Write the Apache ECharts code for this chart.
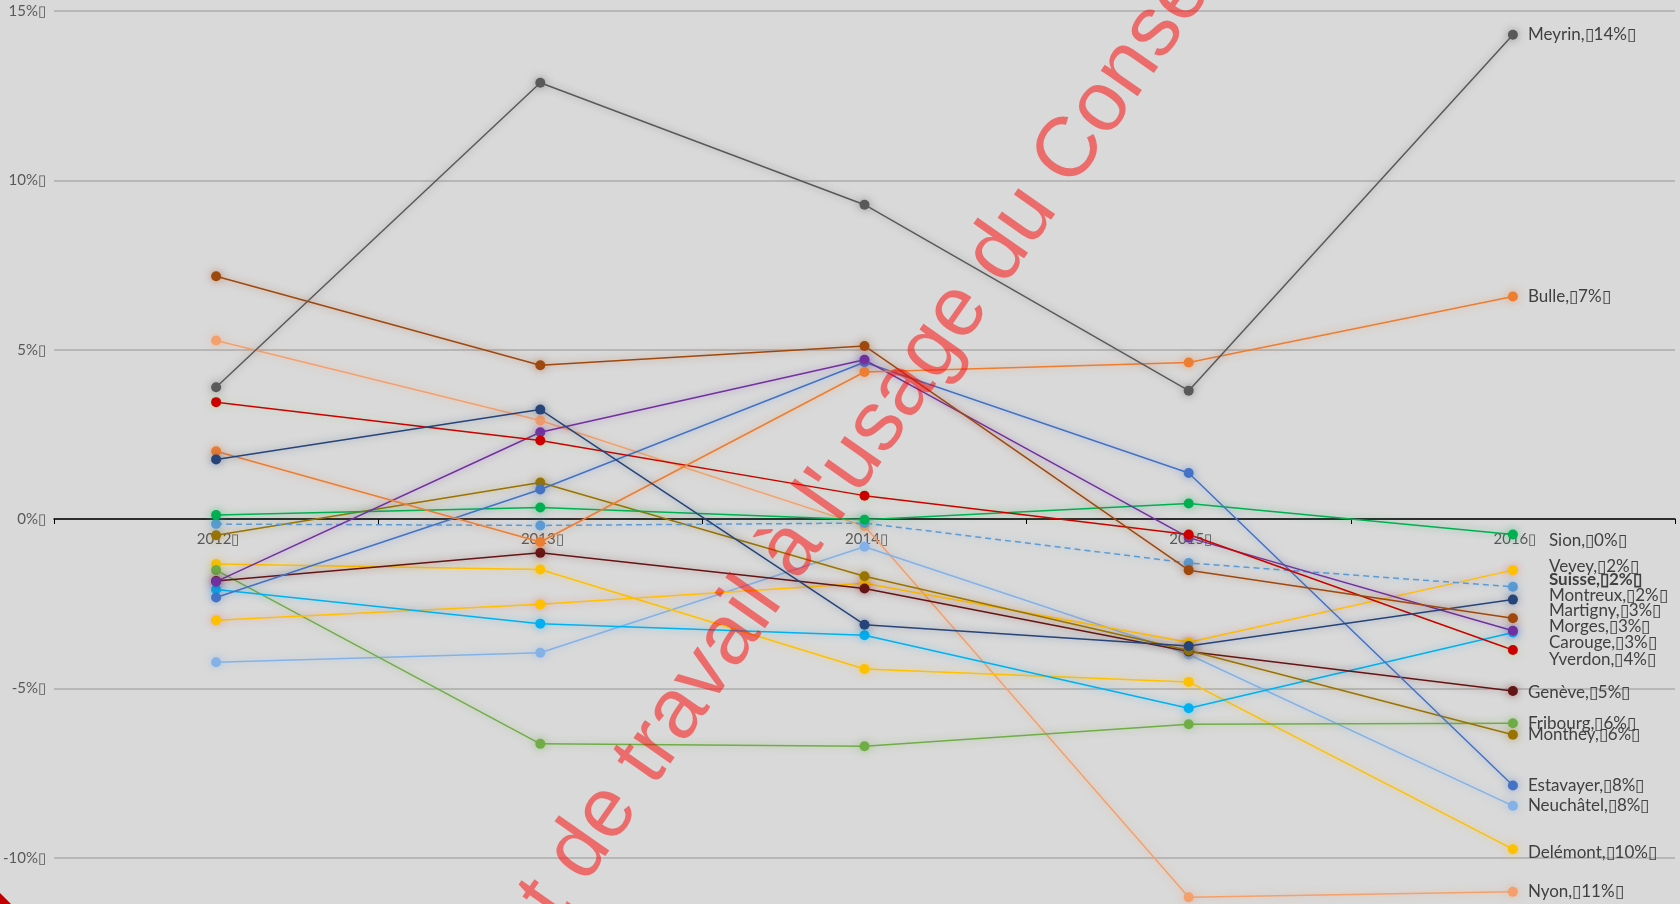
<!DOCTYPE html>
<html>
<head>
<meta charset="utf-8">
<script src="https://cdn.jsdelivr.net/npm/echarts@6/dist/echarts.min.js"></script>
<style>
html,body{margin:0;padding:0;overflow:hidden;background:#d9d9d9;}
#chart{width:1680px;height:1100px;}
</style>
</head>
<body>
<div id="chart"></div>
<script>
// ---- data ----
const years = ['2012', '2013', '2014', '2015', '2016'];
const yTicks = [-15, -10, -5, 0, 5, 10, 15];

const meyrin    = [3.89, 12.88, 9.28, 3.79, 14.30];
const bulle     = [2.00, -0.68, 4.34, 4.62, 6.57];
const sion      = [0.12, 0.34, -0.02, 0.46, -0.46];
const vevey     = [-2.99, -2.52, -1.90, -3.64, -1.51];
const suisse    = [-0.15, -0.19, -0.12, -1.30, -2.00];
const montreux  = [1.76, 3.23, -3.12, -3.75, -2.38];
const martigny  = [7.17, 4.54, 5.11, -1.51, -2.93];
const morges    = [-1.85, 2.56, 4.70, -0.55, -3.30];
const carouge   = [-2.08, -3.09, -3.43, -5.59, -3.35];
const yverdon   = [3.45, 2.32, 0.69, -0.46, -3.87];
const geneve    = [-1.83, -1.00, -2.05, -3.91, -5.08];
const fribourg  = [-1.51, -6.64, -6.71, -6.06, -6.03];
const monthey   = [-0.48, 1.08, -1.69, -3.88, -6.37];
const estavayer = [-2.32, 0.87, 4.63, 1.36, -7.87];
const neuchatel = [-4.23, -3.95, -0.82, -4.00, -8.47];
const delemont  = [-1.33, -1.49, -4.43, -4.81, -9.75];
const nyon      = [5.27, 2.91, -0.21, -11.17, -11.01];

const seriesList = [
  ['Nyon', nyon], ['Neuchâtel', neuchatel], ['Delémont', delemont], ['Fribourg', fribourg],
  ['Vevey', vevey], ['Carouge', carouge], ['Genève', geneve], ['Monthey', monthey],
  ['Suisse', suisse], ['Sion', sion], ['Estavayer', estavayer], ['Morges', morges],
  ['Yverdon', yverdon], ['Bulle', bulle], ['Montreux', montreux], ['Martigny', martigny],
  ['Meyrin', meyrin]
];

const watermarkText = "Document de travail à l'usage du Conseil";
const BOX = '\u25AF';

// ---- styles (colours, label nudges) ----
const styles = {
  'Meyrin':    {c: '#595959', dx: 0,  dy: 0},
  'Bulle':     {c: '#ED7D31', dx: 0,  dy: 0},
  'Sion':      {c: '#00B050', dx: 21, dy: 6},
  'Vevey':     {c: '#FFC000', dx: 21, dy: -4, glow: 'rgba(240,90,60,0.45)'},
  'Suisse':    {c: '#5B9BD5', dx: 21, dy: -7, dashed: true, bold: true},
  'Montreux':  {c: '#264478', dx: 21, dy: -4},
  'Martigny':  {c: '#9E480E', dx: 21, dy: -8},
  'Morges':    {c: '#7030A0', dx: 21, dy: -4},
  'Carouge':   {c: '#00B0F0', dx: 21, dy: 10},
  'Yverdon':   {c: '#CC0000', dx: 21, dy: 9, glow: 'rgba(120,200,60,0.35)'},
  'Genève':    {c: '#641414', dx: 0,  dy: 1},
  'Fribourg':  {c: '#70AD47', dx: 0,  dy: 0},
  'Monthey':   {c: '#997300', dx: 0,  dy: 0},
  'Estavayer': {c: '#4472C4', dx: 0,  dy: 0},
  'Neuchâtel': {c: '#84B2E6', dx: 0,  dy: 0},
  'Delémont':  {c: '#FFC000', dx: 0,  dy: 3},
  'Nyon':      {c: '#F4A06C', dx: 0,  dy: 0}
};

function rgba(hex, a) {
  const n = parseInt(hex.slice(1), 16);
  return 'rgba(' + ((n >> 16) & 255) + ',' + ((n >> 8) & 255) + ',' + (n & 255) + ',' + a + ')';
}

const FONT = 'Lato, "Open Sans", sans-serif';

const series = seriesList.map(function (pair) {
  const name = pair[0], vals = pair[1], s = styles[name];
  const last = vals.length - 1;
  const glow = s.glow || rgba(s.c, 0.5);
  return {
    name: name,
    type: 'line',
    data: vals.map(function (v, i) {
      if (i !== last) return v;
      return {
        value: v,
        label: {
          show: true,
          position: 'right',
          distance: 10,
          offset: [s.dx, s.dy],
          formatter: name + ',' + BOX + Math.round(Math.abs(v)) + '%' + BOX,
          color: '#404040',
          fontSize: 17,
          fontFamily: FONT,
          fontWeight: s.bold ? 'bold' : 'normal'
        }
      };
    }),
    symbol: 'circle',
    symbolSize: 10,
    showSymbol: true,
    lineStyle: {color: s.c, width: 1.5, type: s.dashed ? [6, 4] : 'solid', shadowBlur: 7, shadowColor: glow},
    itemStyle: {color: s.c, shadowBlur: 9, shadowColor: glow},
    emphasis: {disabled: true},
    z: 3
  };
});

const chart = echarts.init(document.getElementById('chart'), null, {renderer: 'canvas'});
chart.setOption({
  backgroundColor: '#d9d9d9',
  animation: false,
  grid: {left: 53, right: 5, top: 11, bottom: 73},
  xAxis: {
    type: 'category',
    data: years.map(function (y) { return y + BOX; }),
    boundaryGap: true,
    axisLine: {onZero: true, lineStyle: {color: '#000000', width: 1.5}},
    axisTick: {show: true, length: 5, lineStyle: {color: '#000000', width: 1}},
    axisLabel: {show: false},
    z: 2
  },
  yAxis: {
    type: 'value',
    min: yTicks[0],
    max: yTicks[yTicks.length - 1],
    interval: 5,
    axisLabel: {formatter: function (v) { return v + '%' + BOX; }, color: '#595959', fontSize: 15, fontFamily: FONT, margin: 8},
    splitLine: {lineStyle: {color: '#ababab', width: 1.5}},
    axisLine: {show: false},
    axisTick: {show: false}
  },
  series: series
});

// category labels placed on the zero line through the library's own scales
const xLabels = years.map(function (y, i) {
  const p = chart.convertToPixel({gridIndex: 0}, [i, 0]);
  return {
    type: 'text',
    x: p[0] + 2, y: p[1] + 13,
    z: 1,
    silent: true,
    style: {
      text: y + BOX,
      fill: '#595959',
      font: '15px ' + FONT,
      align: 'center', verticalAlign: 'top',
      textAlign: 'center', textVerticalAlign: 'top'
    }
  };
});

chart.setOption({
  graphic: xLabels.concat([
    {
      type: 'text',
      x: 773, y: 576,
      rotation: 55 * Math.PI / 180,
      z: 100,
      silent: true,
      style: {
        text: watermarkText,
        font: '85px "Liberation Sans", Arial, sans-serif',
        fill: 'rgba(255,0,0,0.5)',
        align: 'center', verticalAlign: 'middle',
        textAlign: 'center', textVerticalAlign: 'middle'
      }
    },
    {
      type: 'polygon',
      z: 100,
      silent: true,
      shape: {points: [[0, 893], [11, 904], [0, 904]]},
      style: {fill: '#C00000'}
    }
  ])
});
</script>
</body>
</html>
